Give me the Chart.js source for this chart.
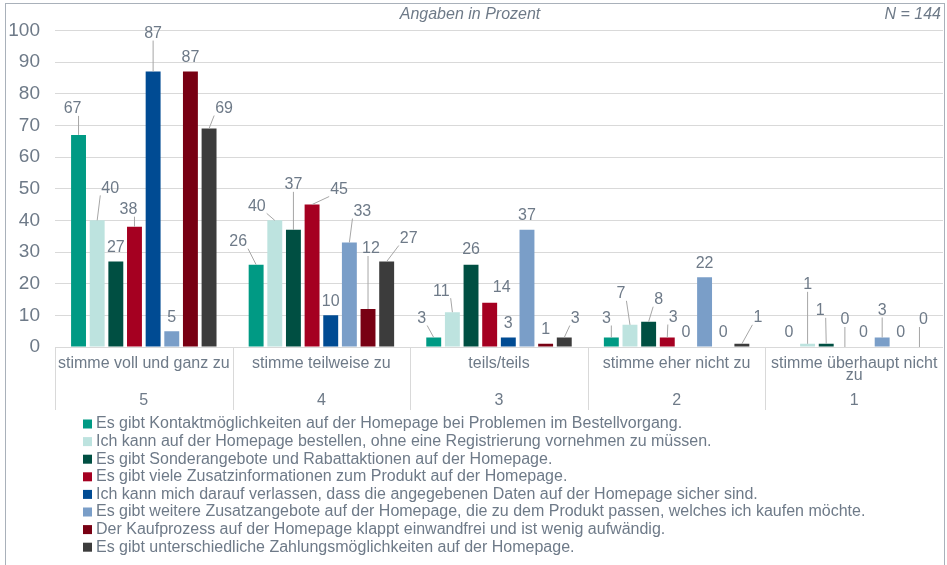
<!DOCTYPE html>
<html>
<head>
<meta charset="utf-8">
<script src="https://cdn.jsdelivr.net/npm/chart.js@4.4.1/dist/chart.umd.min.js"></script>
<style>
  body{margin:0;background:#fff;}
  #frame{position:absolute;left:5px;top:3px;width:938px;height:570px;border:1px solid #A9B1BA;}
  #wrap{position:absolute;left:6px;top:4px;width:937px;height:561px;}
</style>
</head>
<body>
<div id="frame"></div>
<div id="wrap"><canvas id="chart"></canvas></div>
<script>
// Kategorien (Skala 5..1) und Serien in Prozent
const categories = ['stimme voll und ganz zu','stimme teilweise zu','teils/teils','stimme eher nicht zu','stimme überhaupt nicht zu'];
const codes = ['5','4','3','2','1'];
const yTicks = [0,10,20,30,40,50,60,70,80,90,100];

const seriesNames = [
  'Es gibt Kontaktmöglichkeiten auf der Homepage bei Problemen im Bestellvorgang.',
  'Ich kann auf der Homepage bestellen, ohne eine Registrierung vornehmen zu müssen.',
  'Es gibt Sonderangebote und Rabattaktionen auf der Homepage.',
  'Es gibt viele Zusatzinformationen zum Produkt auf der Homepage.',
  'Ich kann mich darauf verlassen, dass die angegebenen Daten auf der Homepage sicher sind.',
  'Es gibt weitere Zusatzangebote auf der Homepage, die zu dem Produkt passen, welches ich kaufen möchte.',
  'Der Kaufprozess auf der Homepage klappt einwandfrei und ist wenig aufwändig.',
  'Es gibt unterschiedliche Zahlungsmöglichkeiten auf der Homepage.'
];
const kontakt      = [67, 26,  3,  3, 0];
const ohneRegistr  = [40, 40, 11,  7, 1];
const sonderangeb  = [27, 37, 26,  8, 1];
const zusatzinfo   = [38, 45, 14,  3, 0];
const datenSicher  = [87, 10,  3,  0, 0];
const zusatzangeb  = [ 5, 33, 37, 22, 3];
const kaufprozess  = [87, 12,  1,  0, 0];
const zahlung      = [69, 27,  3,  1, 0];

const colors = ['#009A84','#BDE3DF','#004F42','#A50021','#004B93','#7A9EC8','#780013','#3C3C3C'];

// Verschiebung der Datenbeschriftungen [dx, dy] in px (wie im Original mit Fuehrungslinien)
const labelNudge = [
  [[-6,-12],[-18,-9],[-12,-5],[-5,-5],[0,0]],
  [[13,-18],[-18,0],[-11,-7],[-9,-17],[0,-45]],
  [[0,0],[0,-31],[0,-1],[10,-8],[-6,-19]],
  [[-6,-3],[27,-1],[12,-1],[6,-6],[0,-13]],
  [[0,-24],[0,0],[0,0],[0,0],[0,0]],
  [[0,0],[13,-17],[0,0],[0,0],[0,-13]],
  [[0,0],[3,-46],[0,0],[0,0],[0,0]],
  [[15,-6],[22,-9],[11,-5],[16,-12],[4,-13]]
];

const FONT = '"Liberation Sans", Arial, sans-serif';
const TXT = '#6E7A88';

function wrap(text, maxW){
  const ctx = document.createElement('canvas').getContext('2d');
  ctx.font = '16px ' + FONT;
  const words = text.split(' ');
  const lines = [];
  let cur = '';
  words.forEach(w => {
    const t = cur ? cur + ' ' + w : w;
    if (ctx.measureText(t).width > maxW && cur){ lines.push(cur); cur = w; }
    else cur = t;
  });
  lines.push(cur);
  return lines;
}

const xLabels = categories.map((c,i) => {
  const l = wrap(c, 176);
  while (l.length < 3) l.push('');
  l.push(codes[i]);
  return l;
});

const allSeries = [kontakt, ohneRegistr, sonderangeb, zusatzinfo, datenSicher, zusatzangeb, kaufprozess, zahlung];

const headerPlugin = {
  id:'header',
  afterDraw(chart){
    const ctx = chart.ctx, a = chart.chartArea;
    ctx.save();
    ctx.fillStyle = TXT;
    ctx.font = 'italic 16px ' + FONT;
    ctx.textBaseline = 'middle';
    ctx.textAlign = 'center';
    ctx.fillText('Angaben in Prozent', 464, 11);
    ctx.textAlign = 'right';
    ctx.fillText('N = 144', a.right - 2, 11);
    ctx.restore();
  }
};

const dividerPlugin = {
  id:'dividers',
  afterDraw(chart){
    const ctx = chart.ctx, a = chart.chartArea, x = chart.scales.x;
    const n = categories.length;
    ctx.save();
    ctx.strokeStyle = '#D9D9D9';
    ctx.lineWidth = 1;
    for (let i = 0; i <= n; i++){
      let bx;
      if (i === 0) bx = a.left;
      else if (i === n) bx = a.right;
      else bx = (x.getPixelForValue(i-1) + x.getPixelForValue(i)) / 2;
      bx = Math.round(bx) + 0.5;
      ctx.beginPath();
      ctx.moveTo(bx, a.bottom);
      ctx.lineTo(bx, x.bottom);
      ctx.stroke();
    }
    ctx.restore();
  }
};

const valueLabelPlugin = {
  id:'valueLabels',
  afterDatasetsDraw(chart){
    const ctx = chart.ctx;
    ctx.save();
    ctx.font = '16px ' + FONT;
    ctx.textAlign = 'center';
    ctx.textBaseline = 'middle';
    chart.data.datasets.forEach((ds, si) => {
      const meta = chart.getDatasetMeta(si);
      meta.data.forEach((bar, ci) => {
        const txt = String(ds.data[ci]);
        const nd = labelNudge[si][ci];
        const lx = bar.x + nd[0], ly = bar.y - 14 + nd[1];
        const w = ctx.measureText(txt).width + 2, h = 14;
        const px = Math.min(Math.max(bar.x, lx - w/2), lx + w/2);
        const py = Math.min(Math.max(bar.y, ly - h/2), ly + h/2);
        if (Math.hypot(px - bar.x, py - bar.y) > 9){
          ctx.strokeStyle = '#A6A6A6';
          ctx.lineWidth = 1;
          ctx.beginPath();
          ctx.moveTo(bar.x, bar.y);
          ctx.lineTo(px, py);
          ctx.stroke();
        }
        ctx.fillStyle = TXT;
        ctx.fillText(txt, lx, ly);
      });
    });
    ctx.restore();
  }
};

const legendPlugin = {
  id:'listLegend',
  afterDraw(chart){
    const ctx = chart.ctx;
    ctx.save();
    ctx.font = '16px ' + FONT;
    ctx.textBaseline = 'middle';
    ctx.textAlign = 'left';
    chart.data.datasets.forEach((ds, i) => {
      const y = 420 + i * 17.6;
      ctx.fillStyle = ds.backgroundColor;
      ctx.fillRect(77, y - 4.5, 9, 9);
      ctx.fillStyle = TXT;
      ctx.fillText(ds.label, 90, y);
    });
    ctx.restore();
  }
};

new Chart(document.getElementById('chart'), {
  type:'bar',
  data:{
    labels: xLabels,
    datasets: allSeries.map((d, i) => ({
      label: seriesNames[i],
      data: d,
      backgroundColor: colors[i],
      categoryPercentage: 0.84,
      barPercentage: 0.8
    }))
  },
  options:{
    responsive:true,
    maintainAspectRatio:false,
    animation:false,
    layout:{ padding:{ top:22, bottom:155, left:0, right:0 } },
    plugins:{ legend:{ display:false }, tooltip:{ enabled:false } },
    scales:{
      x:{
        grid:{ display:false },
        border:{ display:true, color:'#D9D9D9' },
        ticks:{
          color: TXT, maxRotation:0, minRotation:0, autoSkip:false, padding:2,
          font:{ family: FONT, size:16, lineHeight:0.77 }
        },
        afterFit(s){ s.height = 63; }
      },
      y:{
        min:0, max:100,
        afterBuildTicks(s){ s.ticks = yTicks.map(v => ({ value:v })); },
        grid:{ color:'#D9D9D9', drawTicks:false },
        border:{ display:false },
        ticks:{ color: TXT, padding:15, font:{ family: FONT, size:19 } },
        afterFit(s){ s.width = 49; }
      }
    }
  },
  plugins:[headerPlugin, dividerPlugin, valueLabelPlugin, legendPlugin]
});
</script>
</body>
</html>
